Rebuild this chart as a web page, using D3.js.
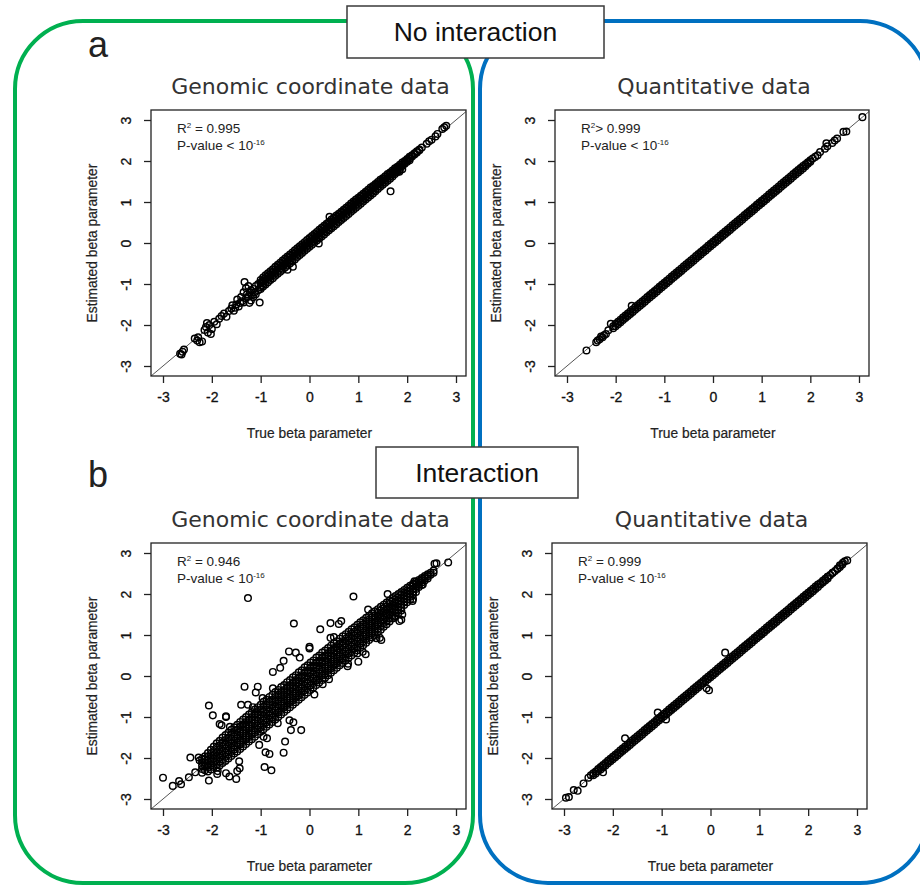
<!DOCTYPE html>
<html>
<head>
<meta charset="utf-8">
<script src="https://cdn.jsdelivr.net/npm/d3@7"></script>
<style>
  body { margin: 0; background: #fff; }
  svg text { font-family: "Liberation Sans", Arial, sans-serif; }
</style>
</head>
<body>
<svg id="svg" width="920" height="886"></svg>
<script>
// Labels =================================================================
var tickValues = [-3, -2, -1, 0, 1, 2, 3];
var panelTitles = ["Genomic coordinate data", "Quantitative data", "Genomic coordinate data", "Quantitative data"];
var r2Labels = [" = 0.995", "> 0.999", " = 0.946", " = 0.999"];
var groupLabels = ["No interaction", "Interaction"];
var panelLetters = ["a", "b"];
var xLabel = "True beta parameter";
var yLabel = "Estimated beta parameter";

// Data: [true beta, estimated beta] ======================================
// a, genomic coordinate data (scattered part)
var genomicNoInt = [
  [-2.65,-2.7],[-2.6,-2.65],[-2.62,-2.72],[-2.57,-2.6],[-2.3,-2.38],[-2.25,-2.42],[-2.2,-2.4],
  [-2.35,-2.33],[-2.28,-2.3],[-2.12,-2.05],[-2.15,-2.12],[-2.08,-2.18],[-2.05,-2.0],[-2.1,-1.95],
  [-2.0,-2.1],[-1.95,-1.92],[-2.02,-2.22],[-1.9,-1.98],[-1.85,-1.85],[-1.8,-1.78],[-1.75,-1.72],
  [-1.7,-1.8],[-1.65,-1.66],[-1.6,-1.6],[-1.55,-1.65],[-1.58,-1.52],[-1.5,-1.5],[-1.45,-1.55],
  [-1.42,-1.46],[-1.38,-1.42],[-1.35,-1.45],[-1.3,-1.35],[-1.28,-1.25],[-1.25,-1.3],[-1.22,-1.2],
  [-1.2,-1.4],[-1.18,-1.28],[-1.15,-1.12],[-1.12,-1.2],[-1.33,-0.95],[-1.02,-1.45],[-1.23,-1.46],
  [-1.1,-1.05],[-1.05,-1.0],[-1.0,-1.08],[-0.98,-0.95],[-1.3,-1.1],[-1.25,-1.05],[-1.15,-1.32],
  [-1.2,-1.15],[-1.1,-1.25],[-1.05,-1.15],[-1.35,-1.2],[-1.4,-1.32],[-1.48,-1.38],[-1.52,-1.58],
  [-0.34,-0.58],[-0.45,-0.65],[0.19,-0.01],[0.41,0.64],[1.66,1.26],[1.84,1.74],[1.9,1.8],
  [2.4,2.42],[2.45,2.48],[2.5,2.52],[2.58,2.6],[2.72,2.78],[2.76,2.82],[2.8,2.86],[2.62,2.66]
];
// a, genomic coordinate data (dense band): [true, est, est, ...]
var genomicNoIntCore = [
  [-1.0,-0.9,-0.97,-1.04,-1.12],[-0.95,-0.84,-0.91,-0.99,-1.06],[-0.9,-0.79,-0.86,-0.93,-1.01],
  [-0.85,-0.74,-0.81,-0.88,-0.96],[-0.8,-0.69,-0.76,-0.83,-0.9],[-0.75,-0.64,-0.71,-0.78,-0.86],
  [-0.7,-0.58,-0.65,-0.73,-0.8],[-0.65,-0.53,-0.6,-0.68,-0.75],[-0.6,-0.48,-0.55,-0.62,-0.7],
  [-0.55,-0.43,-0.5,-0.57,-0.65],[-0.5,-0.38,-0.45,-0.52,-0.6],[-0.45,-0.33,-0.4,-0.47,-0.55],
  [-0.4,-0.28,-0.35,-0.42,-0.5],[-0.35,-0.23,-0.3,-0.37,-0.45],[-0.3,-0.18,-0.25,-0.32,-0.4],
  [-0.25,-0.13,-0.2,-0.27,-0.34],[-0.2,-0.08,-0.15,-0.22,-0.29],[-0.15,-0.03,-0.1,-0.17,-0.24],
  [-0.1,0.02,-0.05,-0.12,-0.19],[-0.05,0.07,0.0,-0.07,-0.14],[0.0,0.12,0.05,-0.02,-0.09],
  [0.05,0.17,0.1,0.03,-0.04],[0.1,0.22,0.15,0.08,0.01],[0.15,0.27,0.2,0.13,0.06],
  [0.2,0.32,0.25,0.18,0.11],[0.25,0.37,0.3,0.23,0.16],[0.3,0.42,0.35,0.28,0.21],
  [0.35,0.47,0.4,0.33,0.26],[0.4,0.52,0.45,0.38,0.31],[0.45,0.57,0.5,0.43,0.36],
  [0.5,0.62,0.55,0.48,0.41],[0.55,0.67,0.6,0.53,0.46],[0.6,0.71,0.65,0.58,0.51],
  [0.65,0.76,0.7,0.63,0.56],[0.7,0.81,0.75,0.68,0.61],[0.75,0.86,0.8,0.73,0.66],
  [0.8,0.91,0.85,0.78,0.71],[0.85,0.96,0.9,0.83,0.76],[0.9,1.01,0.95,0.88,0.81],
  [0.95,1.06,1.0,0.93,0.86],[1.0,1.1,1.04,0.98,0.91],[1.05,1.15,1.09,1.03,0.96],
  [1.1,1.2,1.14,1.08,1.01],[1.15,1.25,1.19,1.13,1.06],[1.2,1.3,1.24,1.18,1.11],
  [1.25,1.35,1.29,1.23,1.16],[1.3,1.39,1.34,1.28,1.21],[1.35,1.44,1.39,1.33,1.26],
  [1.4,1.49,1.44,1.38,1.32],[1.45,1.54,1.49,1.43,1.37],[1.5,1.58,1.53,1.48,1.42],
  [1.55,1.63,1.58,1.53,1.47],[1.6,1.68,1.63,1.58,1.52],[1.65,1.72,1.68,1.63,1.57],
  [1.7,1.77,1.73,1.68,1.62],[1.75,1.82,1.78,1.73,1.68],[1.8,1.86,1.82,1.78,1.73],
  [1.85,1.91,1.87,1.83,1.78],[1.9,1.96,1.92,1.88],[1.95,2.0,1.97,1.93],[2.0,2.05,2.02,1.98],
  [2.05,2.1,2.06,2.02],[2.1,2.14,2.11],[2.15,2.19,2.16],[2.2,2.24,2.21],[2.25,2.28,2.26],[2.3,2.33]
];

// a, quantitative data
var quantNoInt = [
  [-2.6,-2.62],[-2.4,-2.42],[-2.37,-2.38],[-2.33,-2.35],[-2.3,-2.28],[-2.27,-2.3],[-2.24,-2.25],
  [-2.2,-2.22],[-2.15,-2.13],[-2.1,-1.97],[-1.67,-1.53],[2.1,2.1],[2.15,2.14],[2.2,2.22],[2.3,2.3],
  [2.33,2.43],[2.35,2.36],[2.45,2.44],[2.5,2.5],[2.55,2.55],[2.68,2.71],[2.74,2.72],[3.07,3.07]
];
var quantNoIntCore = [
  [-2.05,-2.03,-2.08],[-2.0,-1.97,-2.03],[-1.95,-1.92,-1.98],[-1.9,-1.87,-1.93],[-1.85,-1.82,-1.88],
  [-1.8,-1.77,-1.83],[-1.75,-1.72,-1.78],[-1.7,-1.67,-1.73],[-1.65,-1.62,-1.68],[-1.6,-1.57,-1.63],
  [-1.55,-1.52,-1.58],[-1.5,-1.47,-1.53],[-1.45,-1.42,-1.48],[-1.4,-1.37,-1.43],[-1.35,-1.32,-1.38],
  [-1.3,-1.27,-1.33],[-1.25,-1.22,-1.28],[-1.2,-1.17,-1.23],[-1.15,-1.12,-1.18],[-1.1,-1.07,-1.13],
  [-1.05,-1.02,-1.08],[-1.0,-0.97,-1.03],[-0.95,-0.92,-0.98],[-0.9,-0.87,-0.93],[-0.85,-0.82,-0.88],
  [-0.8,-0.77,-0.83],[-0.75,-0.72,-0.78],[-0.7,-0.67,-0.73],[-0.65,-0.62,-0.68],[-0.6,-0.57,-0.63],
  [-0.55,-0.52,-0.58],[-0.5,-0.47,-0.53],[-0.45,-0.42,-0.48],[-0.4,-0.37,-0.43],[-0.35,-0.32,-0.38],
  [-0.3,-0.27,-0.33],[-0.25,-0.22,-0.28],[-0.2,-0.17,-0.23],[-0.15,-0.12,-0.18],[-0.1,-0.07,-0.13],
  [-0.05,-0.02,-0.08],[0.0,0.03,-0.03],[0.05,0.08,0.02],[0.1,0.13,0.07],[0.15,0.18,0.12],
  [0.2,0.23,0.17],[0.25,0.28,0.22],[0.3,0.33,0.27],[0.35,0.38,0.32],[0.4,0.43,0.37],[0.45,0.48,0.42],
  [0.5,0.53,0.47],[0.55,0.58,0.52],[0.6,0.63,0.57],[0.65,0.68,0.62],[0.7,0.73,0.67],[0.75,0.78,0.72],
  [0.8,0.83,0.77],[0.85,0.88,0.82],[0.9,0.93,0.87],[0.95,0.98,0.92],[1.0,1.03,0.97],[1.05,1.08,1.02],
  [1.1,1.13,1.07],[1.15,1.18,1.12],[1.2,1.23,1.17],[1.25,1.28,1.22],[1.3,1.33,1.27],[1.35,1.38,1.32],
  [1.4,1.43,1.37],[1.45,1.48,1.42],[1.5,1.53,1.47],[1.55,1.58,1.52],[1.6,1.63,1.57],[1.65,1.68,1.62],
  [1.7,1.73,1.67],[1.75,1.78,1.72],[1.8,1.83,1.77],[1.85,1.88,1.82],[1.9,1.92,1.87],[1.95,1.97,1.93],
  [2.0,2.02,1.98],[2.05,2.06]
];

// b, genomic coordinate data
var genomicInt = [
  [-1.26,1.9],[0.9,1.94],[-0.32,1.28],[0.22,1.14],[0.43,1.29],[0.6,1.27],[0.65,1.34],[0.43,0.93],
  [-0.53,0.37],[-0.42,0.6],[-0.28,0.57],[0.0,0.67],[0.0,0.71],[-1.33,-0.26],[-1.06,-0.26],
  [-2.06,-0.72],[-1.98,-0.96],[-1.71,-1.0],[-1.8,-1.2],[-1.63,-1.24],[-1.26,-0.7],[-1.16,-0.76],
  [-0.96,-0.54],[-0.75,-0.3],[-0.17,-1.32],[-0.38,-1.32],[-0.33,-1.13],[-0.41,-1.08],[-0.53,-1.87],
  [-0.5,-1.6],[-0.9,-1.86],[-0.82,-1.9],[-0.92,-2.22],[-0.78,-2.3],[-1.03,-1.68],[-0.94,-1.48],
  [-0.87,-1.52],[-1.43,-2.25],[-1.5,-2.51],[-1.71,-2.37],[-1.64,-2.45],[-2.06,-2.55],[-1.88,-2.32],
  [-1.89,-2.39],[-2.44,-1.99],[-2.27,-1.99],[-2.25,-2.06],[-3.0,-2.48],[-2.8,-2.68],[-2.63,-2.64],
  [-2.67,-2.56],[-2.47,-2.47],[-2.34,-2.35],[-1.48,-2.32],[-1.44,-2.08],[-1.84,-1.17],[-1.71,-0.98],
  [1.15,0.53],[1.37,0.92],[1.88,1.37],[1.74,1.42],[1.84,1.34],[2.12,1.88],[2.11,1.83],[2.32,2.23],
  [2.15,2.31],[2.6,2.75],[2.84,2.77],[2.56,2.74],[0.79,0.3],[0.27,-0.2],[0.4,-0.08],[0.78,0.24],
  [0.98,0.55],[1.09,0.59],[1.44,0.93],[1.47,0.88],[-0.75,0.1],[-0.6,0.2],[-1.1,-0.4],[0.5,0.95],
  [-0.2,0.45],[1.2,1.62],[1.6,2.0],[-1.4,-0.7],[-0.65,-1.15],[0.1,-0.45],[1.0,0.35],[1.9,1.5]
];
var genomicIntCore = [
  [-2.2,-2.02,-2.1,-2.18,-2.27,-2.36],[-2.14,-1.96,-2.04,-2.12,-2.2,-2.3],
  [-2.08,-1.88,-1.97,-2.06,-2.15,-2.24,-2.33],[-2.02,-1.8,-1.9,-2.0,-2.09,-2.18,-2.28],
  [-1.96,-1.72,-1.83,-1.93,-2.02,-2.12,-2.22],[-1.9,-1.64,-1.75,-1.86,-1.95,-2.05,-2.15,-2.24],
  [-1.84,-1.58,-1.69,-1.8,-1.9,-1.99,-2.09,-2.18],[-1.78,-1.5,-1.62,-1.73,-1.83,-1.93,-2.03,-2.12],
  [-1.72,-1.44,-1.56,-1.67,-1.77,-1.87,-1.97,-2.07],[-1.66,-1.38,-1.5,-1.61,-1.71,-1.81,-1.91,-2.01],
  [-1.6,-1.31,-1.43,-1.54,-1.64,-1.75,-1.85,-1.95],[-1.54,-1.25,-1.37,-1.48,-1.58,-1.69,-1.79,-1.89],
  [-1.48,-1.19,-1.31,-1.42,-1.52,-1.63,-1.73,-1.84],[-1.42,-1.12,-1.24,-1.36,-1.46,-1.57,-1.67,-1.78],
  [-1.36,-1.06,-1.18,-1.3,-1.4,-1.51,-1.61,-1.72],[-1.3,-1.0,-1.12,-1.24,-1.34,-1.45,-1.55,-1.66],
  [-1.24,-0.94,-1.06,-1.18,-1.28,-1.39,-1.49,-1.6],[-1.18,-0.88,-1.0,-1.12,-1.22,-1.33,-1.43,-1.54],
  [-1.12,-0.82,-0.94,-1.06,-1.16,-1.27,-1.37,-1.48],[-1.06,-0.76,-0.88,-1.0,-1.1,-1.21,-1.31,-1.42],
  [-1.0,-0.7,-0.82,-0.94,-1.04,-1.15,-1.25,-1.36],[-0.94,-0.63,-0.75,-0.87,-0.98,-1.08,-1.19,-1.3],
  [-0.88,-0.58,-0.7,-0.82,-0.92,-1.03,-1.13,-1.24],[-0.82,-0.51,-0.63,-0.76,-0.86,-0.96,-1.07,-1.18],
  [-0.76,-0.46,-0.58,-0.7,-0.8,-0.9,-1.01,-1.12],[-0.7,-0.39,-0.51,-0.63,-0.74,-0.84,-0.95,-1.06],
  [-0.64,-0.34,-0.46,-0.58,-0.68,-0.78,-0.89,-1.0],[-0.58,-0.27,-0.39,-0.51,-0.62,-0.72,-0.83,-0.94],
  [-0.52,-0.22,-0.34,-0.46,-0.56,-0.66,-0.77,-0.88],[-0.46,-0.15,-0.27,-0.39,-0.5,-0.6,-0.71,-0.82],
  [-0.4,-0.1,-0.22,-0.34,-0.44,-0.54,-0.65,-0.76],[-0.34,-0.03,-0.15,-0.27,-0.38,-0.48,-0.59,-0.7],
  [-0.28,0.02,-0.1,-0.22,-0.32,-0.42,-0.53,-0.64],[-0.22,0.09,-0.03,-0.15,-0.26,-0.36,-0.47,-0.58],
  [-0.16,0.14,0.02,-0.1,-0.2,-0.3,-0.41,-0.52],[-0.1,0.21,0.09,-0.03,-0.14,-0.24,-0.35,-0.46],
  [-0.04,0.26,0.14,0.02,-0.08,-0.18,-0.29,-0.4],[0.02,0.33,0.21,0.09,-0.02,-0.12,-0.23,-0.34],
  [0.08,0.38,0.26,0.14,0.04,-0.06,-0.17,-0.28],[0.14,0.45,0.33,0.21,0.1,0.0,-0.11,-0.22],
  [0.2,0.5,0.38,0.26,0.16,0.06,-0.05,-0.16],[0.26,0.57,0.45,0.33,0.22,0.12,0.01,-0.1],
  [0.32,0.62,0.5,0.38,0.28,0.18,0.07,-0.04],[0.38,0.68,0.56,0.44,0.34,0.24,0.13,0.02],
  [0.44,0.74,0.62,0.5,0.4,0.3,0.19,0.08],[0.5,0.8,0.68,0.56,0.46,0.36,0.25,0.14],
  [0.56,0.85,0.73,0.62,0.52,0.42,0.31,0.2],[0.62,0.91,0.79,0.68,0.58,0.48,0.37,0.26],
  [0.68,0.97,0.85,0.74,0.64,0.54,0.43,0.32],[0.74,1.02,0.91,0.8,0.7,0.6,0.49,0.38],
  [0.8,1.08,0.97,0.86,0.76,0.66,0.55,0.44],[0.86,1.14,1.03,0.92,0.82,0.72,0.61,0.5],
  [0.92,1.19,1.08,0.98,0.88,0.78,0.67,0.57],[0.98,1.25,1.14,1.04,0.94,0.84,0.73,0.63],
  [1.04,1.31,1.2,1.1,1.0,0.9,0.79,0.69],[1.1,1.36,1.26,1.16,1.06,0.96,0.85,0.75],
  [1.16,1.42,1.32,1.22,1.12,1.02,0.91,0.81],[1.22,1.47,1.37,1.27,1.18,1.08,0.98,0.88],
  [1.28,1.53,1.43,1.33,1.24,1.14,1.04,0.94],[1.34,1.58,1.48,1.39,1.3,1.2,1.1,1.0],
  [1.4,1.63,1.54,1.45,1.36,1.26,1.16,1.07],[1.46,1.69,1.6,1.51,1.42,1.32,1.22,1.13],
  [1.52,1.74,1.65,1.56,1.47,1.38,1.29,1.2],[1.58,1.79,1.7,1.62,1.53,1.44,1.35,1.26],
  [1.64,1.84,1.76,1.68,1.59,1.5,1.41,1.33],[1.7,1.9,1.82,1.73,1.65,1.56,1.48,1.4],
  [1.76,1.95,1.87,1.79,1.71,1.62,1.54,1.46],[1.82,2.0,1.92,1.84,1.77,1.68,1.6,1.53],
  [1.88,2.05,1.98,1.9,1.83,1.75,1.67,1.6],[1.94,2.1,2.03,1.96,1.89,1.81,1.73],
  [2.0,2.15,2.08,2.01,1.94,1.87,1.8],[2.06,2.2,2.13,2.07,2.0,1.93,1.86],
  [2.12,2.25,2.19,2.12,2.06,1.99],[2.18,2.3,2.24,2.18,2.12,2.05],[2.24,2.34,2.29,2.23,2.17],
  [2.3,2.39,2.34,2.28,2.22],[2.36,2.44,2.39,2.33],[2.42,2.48,2.43,2.38],[2.48,2.52,2.47],[2.54,2.57,2.52]
];

// b, quantitative data
var quantInt = [
  [0.3,0.57],[-0.03,-0.35],[-0.08,-0.3],[-1.08,-0.89],[-0.91,-1.06],[-1.75,-1.52],[-2.96,-2.97],
  [-2.9,-2.95],[-2.72,-2.8],[-2.8,-2.78],[-2.6,-2.62],[-2.5,-2.48],[-2.45,-2.42],[-2.2,-2.35],
  [2.71,2.76],[2.75,2.8],[2.8,2.82],[2.65,2.7],[2.6,2.62],[2.5,2.52],[2.4,2.42]
];
var quantIntCore = [
  [-2.4,-2.37,-2.42],[-2.35,-2.33,-2.38],[-2.3,-2.27,-2.32],[-2.25,-2.22,-2.28],[-2.2,-2.17,-2.23],
  [-2.15,-2.12,-2.18],[-2.1,-2.07,-2.13],[-2.05,-2.02,-2.08],[-2.0,-1.97,-2.03],[-1.95,-1.92,-1.98],
  [-1.9,-1.87,-1.93],[-1.85,-1.82,-1.88],[-1.8,-1.77,-1.83],[-1.75,-1.72,-1.78],[-1.7,-1.67,-1.73],
  [-1.65,-1.62,-1.68],[-1.6,-1.57,-1.63],[-1.55,-1.52,-1.58],[-1.5,-1.47,-1.53],[-1.45,-1.42,-1.48],
  [-1.4,-1.37,-1.43],[-1.35,-1.32,-1.38],[-1.3,-1.27,-1.33],[-1.25,-1.22,-1.28],[-1.2,-1.17,-1.23],
  [-1.15,-1.12,-1.18],[-1.1,-1.07,-1.13],[-1.05,-1.02,-1.08],[-1.0,-0.97,-1.03],[-0.95,-0.92,-0.98],
  [-0.9,-0.87,-0.93],[-0.85,-0.82,-0.88],[-0.8,-0.77,-0.83],[-0.75,-0.72,-0.78],[-0.7,-0.67,-0.73],
  [-0.65,-0.62,-0.68],[-0.6,-0.57,-0.63],[-0.55,-0.52,-0.58],[-0.5,-0.47,-0.53],[-0.45,-0.42,-0.48],
  [-0.4,-0.37,-0.43],[-0.35,-0.32,-0.38],[-0.3,-0.27,-0.33],[-0.25,-0.22,-0.28],[-0.2,-0.17,-0.23],
  [-0.15,-0.12,-0.18],[-0.1,-0.07,-0.13],[-0.05,-0.02,-0.08],[0.0,0.03,-0.03],[0.05,0.08,0.02],
  [0.1,0.13,0.07],[0.15,0.18,0.12],[0.2,0.23,0.17],[0.25,0.28,0.22],[0.3,0.33,0.27],[0.35,0.38,0.32],
  [0.4,0.43,0.37],[0.45,0.48,0.42],[0.5,0.53,0.47],[0.55,0.58,0.52],[0.6,0.63,0.57],[0.65,0.68,0.62],
  [0.7,0.73,0.67],[0.75,0.78,0.72],[0.8,0.83,0.77],[0.85,0.88,0.82],[0.9,0.93,0.87],[0.95,0.98,0.92],
  [1.0,1.03,0.97],[1.05,1.08,1.02],[1.1,1.13,1.07],[1.15,1.18,1.12],[1.2,1.23,1.17],[1.25,1.28,1.22],
  [1.3,1.33,1.27],[1.35,1.38,1.32],[1.4,1.43,1.37],[1.45,1.48,1.42],[1.5,1.53,1.47],[1.55,1.58,1.52],
  [1.6,1.63,1.57],[1.65,1.68,1.62],[1.7,1.73,1.67],[1.75,1.78,1.72],[1.8,1.83,1.77],[1.85,1.88,1.82],
  [1.9,1.93,1.87],[1.95,1.98,1.92],[2.0,2.03,1.97],[2.05,2.08,2.02],[2.1,2.13,2.07],[2.15,2.18,2.12],
  [2.2,2.23,2.17],[2.25,2.27,2.23],[2.3,2.32,2.28],[2.35,2.37,2.33],[2.4,2.42,2.38],[2.45,2.46],
  [2.5,2.51],[2.55,2.56],[2.6,2.61],[2.65,2.66],[2.7,2.72]
];

// Layout ================================================================
// tick pixel positions for -3 and 3 on each axis
var panels = [
  { tx0: 163, tx1: 456, ty3: 120, tyN3: 366, scat: genomicNoInt, core: genomicNoIntCore },
  { tx0: 567, tx1: 859, ty3: 120, tyN3: 366, scat: quantNoInt, core: quantNoIntCore },
  { tx0: 163, tx1: 456, ty3: 553, tyN3: 799, scat: genomicInt, core: genomicIntCore },
  { tx0: 564, tx1: 857, ty3: 553, tyN3: 799, scat: quantInt, core: quantIntCore }
];

var svg = d3.select("#svg");

// Functions =============================================================
function expandRows(rows) {
  var out = [];
  rows.forEach(function(r) {
    r.slice(1).forEach(function(y) { out.push([r[0], y]); });
  });
  return out;
}

function fmtTick(d) { return d < 0 ? "-" + Math.abs(d) : String(d); }

function drawPanel(p, i) {
  var xScale = d3.scaleLinear().domain([-3, 3]).range([p.tx0, p.tx1]);
  var yScale = d3.scaleLinear().domain([-3, 3]).range([p.tyN3, p.ty3]);
  var left = p.tx0 - 12, right = p.tx1 + 10, top = p.ty3 - 10, bottom = p.tyN3 + 10;
  var g = svg.append("g");

  // title
  g.append("text")
    .attr("x", (left + right) / 2 + 2).attr("y", top - 16)
    .attr("text-anchor", "middle")
    .style("font-family", "'DejaVu Sans', Verdana, sans-serif")
    .style("font-size", "22px").style("fill", "#333")
    .text(panelTitles[i]);

  // clip to plot region
  g.append("clipPath").attr("id", "clip" + i)
    .append("rect").attr("x", left).attr("y", top)
    .attr("width", right - left).attr("height", bottom - top);

  var plot = g.append("g").attr("clip-path", "url(#clip" + i + ")");

  // identity line
  plot.append("line")
    .attr("x1", xScale(-4)).attr("y1", yScale(-4))
    .attr("x2", xScale(4)).attr("y2", yScale(4))
    .attr("stroke", "#555").attr("stroke-width", 1);

  var pts = expandRows(p.core).concat(p.scat);
  plot.selectAll("circle")
    .data(pts)
    .enter()
    .append("circle")
    .attr("cx", function(d) { return xScale(d[0]); })
    .attr("cy", function(d) { return yScale(d[1]); })
    .attr("r", 3.3)
    .attr("fill", "none")
    .attr("stroke", "#000")
    .attr("stroke-width", 1.45);

  // box
  g.append("rect")
    .attr("x", left).attr("y", top)
    .attr("width", right - left).attr("height", bottom - top)
    .attr("fill", "none").attr("stroke", "#222").attr("stroke-width", 1.3);

  // axes
  var xAxis = d3.axisBottom(xScale).tickValues(tickValues).tickSize(7).tickPadding(9)
    .tickFormat(fmtTick);
  var gx = g.append("g").attr("transform", "translate(0," + bottom + ")").call(xAxis);
  gx.select(".domain").remove();
  gx.selectAll("line").attr("stroke", "#222").attr("stroke-width", 1.3);
  gx.selectAll("text")
    .style("font-size", "14px").style("fill", "#111")
    .style("stroke", "#111").style("stroke-width", "0.3px");

  var yAxis = d3.axisLeft(yScale).tickValues(tickValues).tickSize(7).tickFormat(fmtTick);
  var gy = g.append("g").attr("transform", "translate(" + left + ",0)").call(yAxis);
  gy.select(".domain").remove();
  gy.selectAll("line").attr("stroke", "#222").attr("stroke-width", 1.3);
  gy.selectAll("text")
    .attr("x", null).attr("y", null).attr("dy", null)
    .attr("text-anchor", "middle")
    .attr("transform", "translate(-20,0) rotate(-90)")
    .style("font-size", "14px").style("fill", "#111")
    .style("stroke", "#111").style("stroke-width", "0.3px");

  // axis titles
  g.append("text")
    .attr("x", xScale(0)).attr("y", bottom + 62)
    .attr("text-anchor", "middle")
    .style("font-size", "13.8px").style("fill", "#222")
    .style("stroke", "#222").style("stroke-width", "0.2px")
    .text(xLabel);
  g.append("text")
    .attr("transform", "translate(" + (left - 54) + "," + yScale(0) + ") rotate(-90)")
    .attr("text-anchor", "middle")
    .style("font-size", "13.8px").style("fill", "#222")
    .style("stroke", "#222").style("stroke-width", "0.2px")
    .text(yLabel);

  // R2 and p-value
  var t1 = g.append("text").attr("x", left + 26).attr("y", top + 23)
    .style("font-size", "13.5px").style("fill", "#222");
  t1.append("tspan").text("R");
  t1.append("tspan").attr("dy", -5).style("font-size", "8px").text("2");
  t1.append("tspan").attr("dy", 5).text(r2Labels[i]);
  var t2 = g.append("text").attr("x", left + 26).attr("y", top + 40)
    .style("font-size", "13.5px").style("fill", "#222");
  t2.append("tspan").text("P-value < 10");
  t2.append("tspan").attr("dy", -5).style("font-size", "8px").text("-16");
}

// Frames ================================================================
svg.append("rect")
  .attr("x", 15).attr("y", 21).attr("width", 458).attr("height", 862)
  .attr("rx", 68).attr("fill", "none")
  .attr("stroke", "#00b050").attr("stroke-width", 4);
svg.append("rect")
  .attr("x", 480).attr("y", 21).attr("width", 448).attr("height", 862)
  .attr("rx", 68).attr("fill", "none")
  .attr("stroke", "#0070c0").attr("stroke-width", 4);

panels.forEach(drawPanel);

// Panel letters
svg.selectAll(".letter")
  .data(panelLetters)
  .enter()
  .append("text")
  .attr("class", "letter")
  .attr("x", 88)
  .attr("y", function(d, i) { return i === 0 ? 57 : 487; })
  .style("font-size", "36px").style("fill", "#222")
  .text(function(d) { return d; });

// Group label boxes
var boxes = [
  { x: 347, y: 6, w: 257, h: 52 },
  { x: 376, y: 447, w: 202, h: 51 }
];
boxes.forEach(function(b, i) {
  svg.append("rect")
    .attr("x", b.x).attr("y", b.y).attr("width", b.w).attr("height", b.h)
    .attr("fill", "#fff").attr("stroke", "#3a3a3a").attr("stroke-width", 1.5);
  svg.append("text")
    .attr("x", b.x + b.w / 2).attr("y", b.y + b.h / 2 + 9)
    .attr("text-anchor", "middle")
    .style("font-size", "26.5px").style("fill", "#111")
    .text(groupLabels[i]);
});
</script>
</body>
</html>
